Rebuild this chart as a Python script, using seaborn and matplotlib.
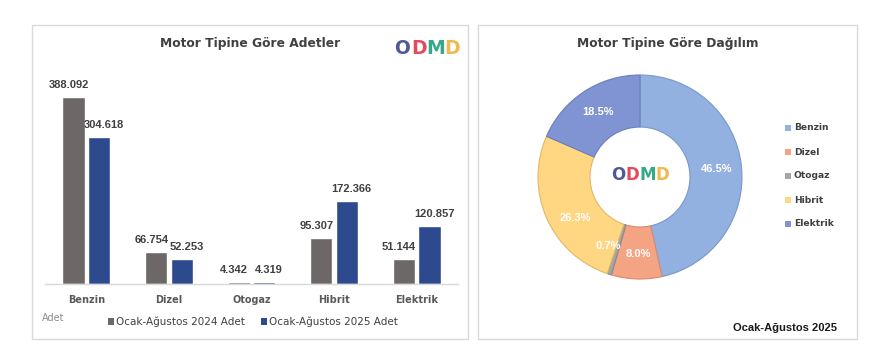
import matplotlib
matplotlib.use("Agg")
import matplotlib.pyplot as plt
from matplotlib.patches import Rectangle, Patch
import seaborn as sns
import pandas as pd

categories = ["Benzin", "Dizel", "Otogaz", "Hibrit", "Elektrik"]
series_names = ["Ocak-Ağustos 2024 Adet", "Ocak-Ağustos 2025 Adet"]
values_2024 = [388092, 66754, 4342, 95307, 51144]
values_2025 = [304618, 52253, 4319, 172366, 120857]
pie_labels = categories
pie_title = "Motor Tipine Göre Dağılım"
bar_title = "Motor Tipine Göre Adetler"

bar_colors = ["#6E6767", "#2E4A8E"]
pie_colors = ["#93B1E0", "#F4A383", "#A5A5A5", "#FFD682", "#8093D3"]
pie_edges = ["#7A97C8", "#D98A6C", "#8A8A8A", "#E0B868", "#6A7DBD"]

sns.set_theme(style="white")
plt.rcParams["font.family"] = ["DejaVu Sans"]
NARROW = ["Liberation Sans", "DejaVu Sans"]

W, H = 890, 352
fig = plt.figure(figsize=(W / 100, H / 100), dpi=100)
fig.patch.set_facecolor("white")

def fx(px):
    return px / W

def fy(py):
    return 1 - py / H

# panel frames
for x0, x1 in [(32, 468), (478, 857)]:
    fig.patches.append(Rectangle((fx(x0), fy(339)), fx(x1 - x0), (339 - 25) / H,
                                 transform=fig.transFigure, facecolor="white",
                                 edgecolor="#D9D9D9", lw=1.0, zorder=-5))

# ---------- bar chart ----------
df = pd.DataFrame({
    "Motor": categories * 2,
    "Dönem": [series_names[0]] * len(categories) + [series_names[1]] * len(categories),
    "Adet": values_2024 + values_2025,
})
ax = fig.add_axes([fx(45), fy(284), fx(458 - 45), (284 - 80) / H])
sns.barplot(data=df, x="Motor", y="Adet", hue="Dönem", palette=bar_colors,
            width=0.62, gap=0.13, ax=ax, legend=False, saturation=1)
ax.set_ylim(0, 423000)
ax.set_xlim(-0.5, len(categories) - 0.5)
ax.set_xlabel("")
ax.set_ylabel("")
ax.set_yticks([])
for s in ["top", "right", "left"]:
    ax.spines[s].set_visible(False)
ax.spines["bottom"].set_color("#D9D9D9")
ax.spines["bottom"].set_linewidth(1.0)
ax.tick_params(axis="x", length=0, pad=8, labelsize=7, labelcolor="#595959")
for lab in ax.get_xticklabels():
    lab.set_fontweight("bold")
ax.set_facecolor("none")
for k, cont in enumerate(ax.containers):
    anns = ax.bar_label(cont, labels=[f"{int(v.get_height()):,}".replace(",", ".") for v in cont],
                        padding=5, fontsize=8, fontweight="bold", color="#404040",
                        family=NARROW)
    dx = -3.5 if k == 0 else 3.5
    for a in anns:
        a.xyann = (dx, 5)

fig.text(fx(250), fy(44), bar_title, ha="center", va="center", fontsize=8.8,
         fontweight="bold", color="#404040")
fig.text(fx(42), fy(318), "Adet", ha="left", va="center", fontsize=7, color="#8C8C8C")
handles = [Patch(facecolor=c, edgecolor="none") for c in bar_colors]
fig.legend(handles, series_names, loc="center", bbox_to_anchor=(fx(253), fy(322)),
           ncol=2, frameon=False, fontsize=7.5, handlelength=0.55, handleheight=0.55,
           handletextpad=0.2, columnspacing=1.6, labelcolor="#404040")

# logo helper
logo_letters = ["O", "D", "M", "D"]
logo_colors = ["#3F4B8C", "#E23A4E", "#23A37C", "#F0B43A"]

def draw_logo(cx, cy, size, step):
    n = len(logo_letters)
    for i, (ch, col) in enumerate(zip(logo_letters, logo_colors)):
        x = cx + (i - (n - 1) / 2) * step
        fig.text(fx(x), fy(cy), ch, ha="center", va="center", fontsize=size,
                 fontweight="heavy", color=col, alpha=0.92)

draw_logo(427, 48, 13.5, 16.5)

# ---------- donut chart ----------
cx, cy, r = 640, 177, 102
pax = fig.add_axes([fx(cx - r), fy(cy + r), fx(2 * r), 2 * r / H])
wedges, texts, autotexts = pax.pie(
    values_2025, colors=pie_colors, startangle=90, counterclock=False,
    radius=1, wedgeprops=dict(width=0.51, linewidth=0.8),
    autopct=lambda p: f"{p:.1f}%", pctdistance=0.76,
    textprops=dict(color="white", fontsize=8, fontweight="bold", family=NARROW))
for w, ec in zip(wedges, pie_edges):
    w.set_edgecolor(ec)
pax.set_xlim(-1, 1)
pax.set_ylim(-1, 1)
pax.set_aspect("auto")
pax.axis("off")

# fine-tune label positions as in the reference (data units of the pie axes)
def to_pie(px, py):
    return ((px - cx) / r, (cy - py) / r)

autotexts[1].set_position(to_pie(638, 254))
autotexts[2].set_position(to_pie(608, 246))
autotexts[3].set_position(to_pie(575, 218))

draw_logo(cx, 175, 12, 14.8)

fig.text(fx(668), fy(44), pie_title, ha="center", va="center", fontsize=8.8,
         fontweight="bold", color="#404040")

for i, (lab, col) in enumerate(zip(pie_labels, pie_colors)):
    yy = 128 + i * 24
    fig.patches.append(Rectangle((fx(785), fy(yy + 3)), fx(6), 6 / H,
                                 transform=fig.transFigure, facecolor=col,
                                 edgecolor="none"))
    fig.text(fx(794), fy(yy), lab, ha="left", va="center", fontsize=6.6,
             fontweight="bold", color="#404040")

fig.text(fx(837), fy(328), "Ocak-Ağustos 2025", ha="right", va="center",
         fontsize=8, fontweight="bold", color="#1A1A1A", family=NARROW)

fig.savefig("out.png", dpi=100, facecolor="white")
